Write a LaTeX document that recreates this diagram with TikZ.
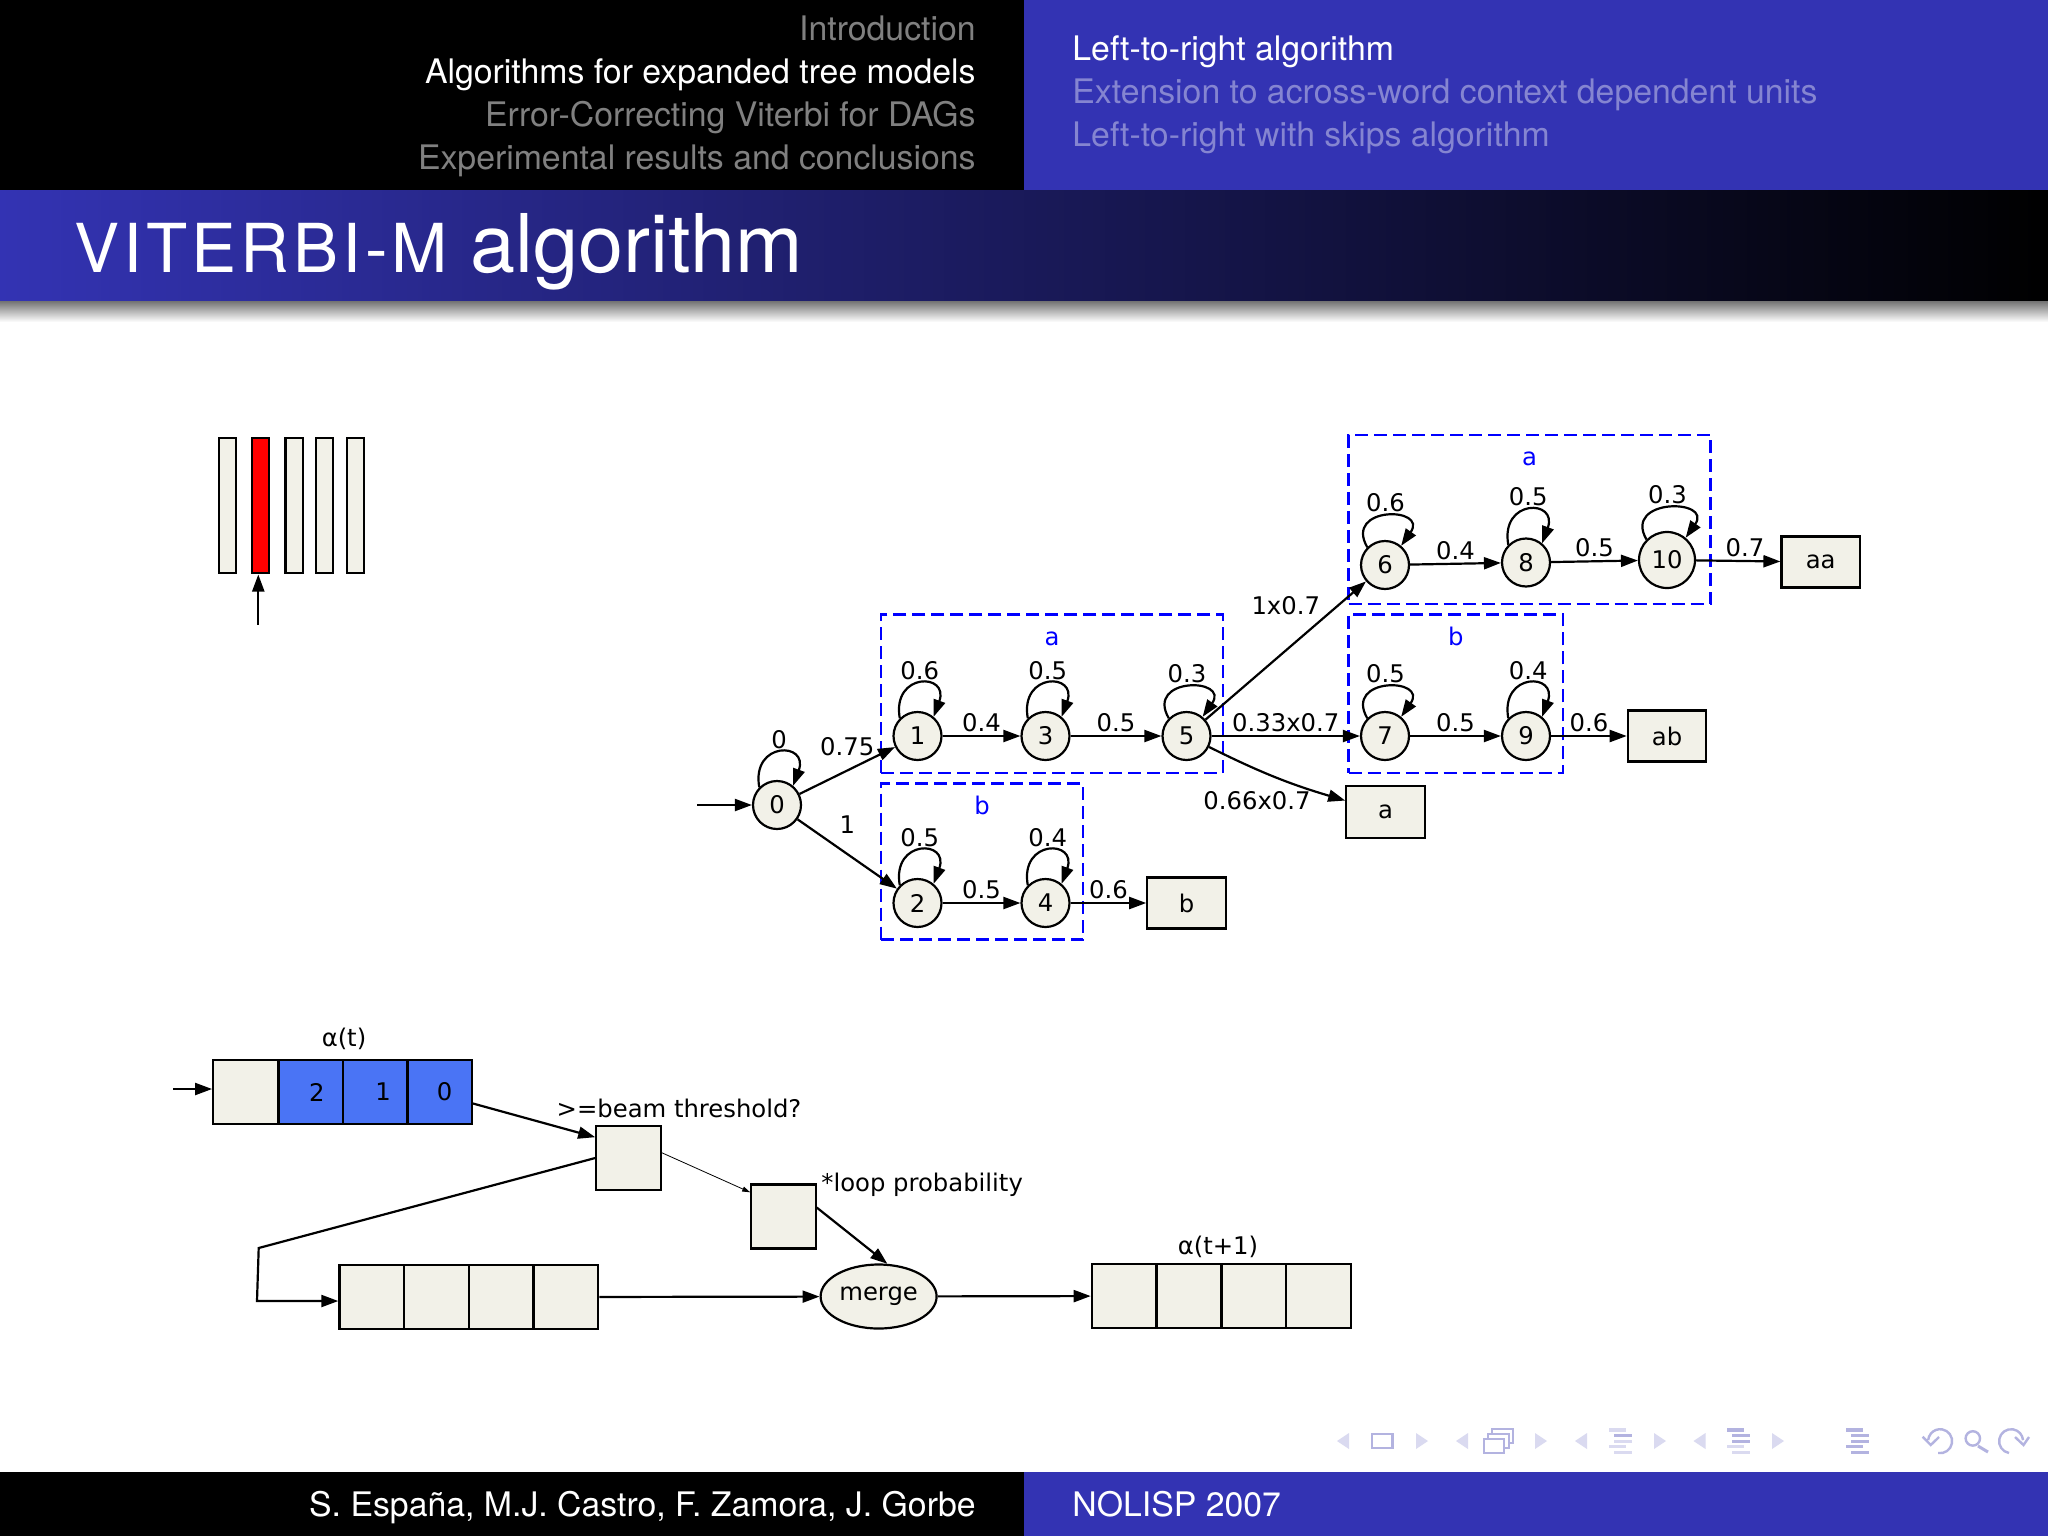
\documentclass[tikz,border=0pt]{standalone}
\usepackage{fontspec}
\setmainfont{TeX Gyre Heros}
\newfontfamily\graphfont{DejaVu Sans}
\usetikzlibrary{arrows.meta, fit, positioning, shapes.geometric}

\definecolor{hdblue}{HTML}{3333B3}
\definecolor{hdfade}{HTML}{8585D1}
\definecolor{paper}{HTML}{F2F1E8}
\definecolor{cellblue}{HTML}{4A74F5}
\definecolor{navsoft}{HTML}{DADAF0}
\definecolor{navhard}{HTML}{B3B3E0}

\tikzset{
  graphtext/.style={font=\graphfont\fontsize{12.15}{14}\selectfont},
  st/.style={graphtext, circle, draw, fill=paper, line width=1.1pt, minimum size=24pt, inner sep=0pt},
  finalbox/.style={graphtext, rectangle, draw, fill=paper, line width=1.1pt, minimum width=39.2pt, minimum height=25.5pt, inner sep=0pt},
  cell/.style={graphtext, rectangle, draw, fill=paper, line width=1.1pt, minimum width=32.2pt, minimum height=32pt, inner sep=0pt},
  bluecell/.style={cell, fill=cellblue},
  bar/.style={rectangle, draw, fill=paper, line width=1.1pt, minimum width=8.6pt, minimum height=67.5pt, inner sep=0pt},
  link/.style={-{Triangle[length=8.5pt,width=6pt]}, line width=1.1pt},
  weight/.style={graphtext, above, inner sep=1.5pt},
  cluster/.style={draw=blue, line width=1.2pt, dash pattern=on 6.5pt off 3pt, inner sep=0pt},
  clusterlabel/.style={graphtext, text=blue, text height=.76em, text depth=0pt, inner sep=0pt},
  narrowloop/.style={out=100, in=70, distance=23.5pt},
  wideloop/.style={out=120, in=55, distance=24pt},
  headtext/.style={font=\fontsize{16.9}{20}\selectfont, inner sep=0pt},
  navtri/.style={fill=navsoft},
  navline/.style={draw=navhard, line width=1.2pt}
}

% Navigation icons
\newcommand{\navleft}[1]{\fill[navtri] (#1+12,1433) -- (#1,1441) -- (#1+12,1449) -- cycle;}
\newcommand{\navright}[1]{\fill[navtri] (#1,1433) -- (#1+12,1441) -- (#1,1449) -- cycle;}
\newcommand{\navlist}[6]{
  \fill[#2] (#1,1428) rectangle (#1+16.5,1432);
  \fill[#3] (#1+5,1433.5) rectangle (#1+22.5,1437);
  \fill[#4] (#1+5,1439.5) rectangle (#1+22.5,1442.5);
  \fill[#5] (#1,1445) rectangle (#1+16.5,1448);
  \fill[#6] (#1+5,1451) rectangle (#1+22.5,1454);
}

\begin{document}
\begin{tikzpicture}[x=0.5pt, y=-0.5pt, on grid]
  \useasboundingbox (0,0) rectangle (2048,1536);
  \fill[white] (0,0) rectangle (2048,1536);

  % Slide frame
  \fill[black] (0,0) rectangle (1024,190);
  \fill[hdblue] (1024,0) rectangle (2048,190);
  \fill[left color=hdblue, right color=black] (0,190) rectangle (2048,301);
  \fill[top color=black!55, bottom color=white] (0,301) rectangle (2048,322);
  \fill[black] (0,1472) rectangle (1024,1536);
  \fill[hdblue] (1024,1472) rectangle (2048,1536);

  \node[headtext, anchor=base east, text=black!50!white] (sec1) at (976,40.5) {Introduction};
  \node[headtext, anchor=base east, text=white] (sec2) at (976,83.5) {Algorithms for expanded tree models};
  \node[headtext, anchor=base east, text=black!50!white] (sec3) at (976,126.5) {Error-Correcting Viterbi for DAGs};
  \node[headtext, anchor=base east, text=black!50!white] (sec4) at (976,169.5) {Experimental results and conclusions};
  \node[headtext, anchor=base west, text=white] (sub1) at (1072,61) {Left-to-right algorithm};
  \node[headtext, anchor=base west, text=hdfade] (sub2) at (1072,104) {Extension to across-word context dependent units};
  \node[headtext, anchor=base west, text=hdfade] (sub3) at (1072,147) {Left-to-right with skips algorithm};
  \node[anchor=base west, inner sep=0pt, text=white, font=\fontsize{40.5}{48}\selectfont] (title) at (74,272)
    {{\fontsize{33.75}{40}\selectfont\addfontfeature{LetterSpace=6}VITERBI-M} algorithm};
  \node[headtext, anchor=base east, text=white] (authors) at (976,1516) {S. España, M.J. Castro, F. Zamora, J. Gorbe};
  \node[headtext, anchor=base west, text=white] (venue) at (1072,1516) {NOLISP 2007};

  % Time frames
  \node[bar] (bar1) at (227.7,505.4) {};
  \node[bar, fill=red] (bar2) at (260.5,505.4) {};
  \node[bar] (bar3) at (294,505.4) {};
  \node[bar] (bar4) at (324.7,505.4) {};
  \node[bar] (bar5) at (355.5,505.4) {};
  \coordinate (barin) at (258.3,624.5);
  \draw[link] (barin) -- (258.3,574.5);

  % Clusters
  \node[cluster, fit={(881,614.6) (1223,773)}] (ca) {};
  \node[cluster, fit={(881,783.6) (1083,939.6)}] (cb) {};
  \node[cluster, fit={(1348.6,435) (1710.6,604)}] (caa) {};
  \node[cluster, fit={(1348.6,614.6) (1563,773)}] (cab) {};
  \node[clusterlabel, below=8.15pt of ca.north] (lca) {a};
  \node[clusterlabel, below=8.15pt of cb.north] (lcb) {b};
  \node[clusterlabel, below=8.15pt of caa.north] (lcaa) {a};
  \node[clusterlabel, below=8.15pt of cab.north] (lcab) {b};

  % Define nodes
  \node[st] (s0) at (777,805) {0};
  \node[st] (s1) at (917.5,736) {1};
  \node[st, right=64pt of s1] (s3) {3};
  \node[st, right=70.5pt of s3] (s5) {5};
  \node[st] (s2) at (917.5,903) {2};
  \node[st, right=64pt of s2] (s4) {4};
  \node[st] (s6) at (1385,565) {6};
  \node[st] (s8) at (1526,562.5) {8};
  \node[st, minimum size=28pt] (s10) at (1667,560) {10};
  \node[st] (s7) at (1385,736) {7};
  \node[st, right=70.5pt of s7] (s9) {9};
  \node[finalbox, right=70.5pt of s4] (fb) {b};
  \node[finalbox, minimum height=26pt] (fa) at (1385.5,812) {a};
  \node[finalbox] (faa) at (1820.7,562) {aa};
  \node[finalbox, right=70.5pt of s9] (fab) {ab};
  \coordinate (sin) at (697,805);

  % Connect the nodes
  \draw[link] (sin) -- (s0);
  \draw[link] (s0) -- node[weight, above=5.5pt] (w01) {0.75} (s1);
  \draw[link] (s0) -- node[weight, above=8pt] (w02) {1} (s2);
  \draw[link] (s1) -- node[weight] (w13) {0.4} (s3);
  \draw[link] (s3) -- node[weight] (w35) {0.5} (s5);
  \draw[link] (s2) -- node[weight] (w24) {0.5} (s4);
  \draw[link] (s4) -- node[weight] (w4b) {0.6} (fb);
  \draw[link] (s5) -- node[weight, above=16pt] (w56) {1x0.7} (s6);
  \draw[link] (s5) -- node[weight] (w57) {0.33x0.7} (s7);
  \draw[link] (s5) to[bend right=5] node[weight, pos=.35, below=9pt] (w5a) {0.66x0.7} (fa);
  \draw[link] (s6) -- node[weight] (w68) {0.4} (s8);
  \draw[link] (s8) -- node[weight] (w810) {0.5} (s10);
  \draw[link] (s10) -- node[weight, pos=.58] (w10a) {0.7} (faa);
  \draw[link] (s7) -- node[weight] (w79) {0.5} (s9);
  \draw[link] (s9) -- node[weight] (w9b) {0.6} (fab);

  % Self loops
  \draw[link] (s0.135) to[narrowloop] node[weight] (w00) {0} (s0.50);
  \draw[link] (s1.135) to[narrowloop] node[weight] (w11) {0.6} (s1.50);
  \draw[link] (s3.135) to[narrowloop] node[weight] (w33) {0.5} (s3.50);
  \draw[link] (s5.135) to[wideloop] node[weight] (w55) {0.3} (s5.50);
  \draw[link] (s2.135) to[narrowloop] node[weight] (w22) {0.5} (s2.50);
  \draw[link] (s4.135) to[narrowloop] node[weight] (w44) {0.4} (s4.50);
  \draw[link] (s6.135) to[wideloop] node[weight] (w66) {0.6} (s6.50);
  \draw[link] (s8.135) to[narrowloop] node[weight] (w88) {0.5} (s8.50);
  \draw[link] (s10.135) to[wideloop] node[weight] (w1010) {0.3} (s10.50);
  \draw[link] (s7.135) to[wideloop] node[weight] (w77) {0.5} (s7.50);
  \draw[link] (s9.135) to[narrowloop] node[weight] (w99) {0.4} (s9.50);

  % Beam queues
  \node[cell] (a0) at (245.4,1092) {};
  \node[bluecell, right=32.7pt of a0] (a1) {\hspace*{6pt}2};
  \node[bluecell, right=32.2pt of a1] (a2) {\hspace*{8pt}1};
  \node[bluecell, right=32.2pt of a2] (a3) {\hspace*{5pt}0};
  \node[cell] (bx1) at (628.5,1158) {};
  \node[cell] (bx2) at (783.5,1216.5) {};
  \node[cell] (r1) at (371.6,1297) {};
  \node[cell, right=32.4pt of r1] (r2) {};
  \node[cell, right=32.4pt of r2] (r3) {};
  \node[cell, right=32.4pt of r3] (r4) {};
  \node[graphtext, ellipse, draw, fill=paper, line width=1.1pt, minimum width=58pt, minimum height=32pt, inner sep=0pt] (mrg) at (878.6,1296.5) {merge};
  \node[cell] (o1) at (1124,1296) {};
  \node[cell, right=32.4pt of o1] (o2) {};
  \node[cell, right=32.4pt of o2] (o3) {};
  \node[cell, right=32.4pt of o3] (o4) {};
  \node[graphtext, anchor=base, inner sep=0pt] (at) at (344,1046) {α(t)};
  \node[graphtext, anchor=base, inner sep=0pt] (atn) at (1218,1254) {α(t+1)};
  \node[graphtext, anchor=base, inner sep=0pt] (beam) at (679,1117) {>=beam threshold?};
  \node[graphtext, anchor=base west, inner sep=0pt] (prob) at (821,1191) {*loop probability};
  \coordinate (qin) at (173,1089);
  \coordinate (bend1) at (258.7,1248);
  \coordinate (bend2) at (257,1301);

  \draw[link] (qin) -- (a0.west |- qin);
  \draw[link] (a3.-19) -- (bx1.148);
  \draw[link, line width=.4pt, -{Triangle[length=4pt,width=2.5pt]}] (bx1.9) -- (bx2.144);
  \draw[link] (bx2.15) -- (mrg.75);
  \draw[link] (bx1.west) -- (bend1) -- (bend2) -- (r1.west |- bend2);
  \draw[link] (r4) -- (mrg);
  \draw[link] (mrg) -- (o1);

  % Navigation symbols
  \navleft{1337}
  \draw[navline] (1372,1434) rectangle (1392.5,1448);
  \navright{1416}
  \navleft{1456}
  \draw[navline, fill=white] (1492,1429) rectangle (1513,1443);
  \draw[navline, fill=white] (1488,1434) rectangle (1509,1448);
  \draw[navline, fill=white] (1484,1439) rectangle (1504,1453);
  \navright{1535}
  \navleft{1575}
  \navlist{1609}{navsoft}{navhard}{navsoft}{navsoft}{navsoft}
  \navright{1654}
  \navleft{1693.5}
  \navlist{1727}{navhard}{navhard}{navhard}{navsoft}{navsoft}
  \navright{1772}
  \navlist{1846}{navhard}{navhard}{navhard}{navhard}{navhard}
  \draw[navline] (1938,1453) arc[start angle=-100, end angle=175, radius=6pt];
  \draw[navline] (1922.6,1436.7) -- (1930.7,1445) -- (1939,1437);
  \draw[navline] (1972.8,1438.4) circle[radius=3.6pt];
  \draw[navline, line width=1.5pt] (1978,1446) -- (1988,1452);
  \draw[navline] (2009,1453) arc[start angle=260, end angle=5, radius=6pt];
  \draw[navline] (2015,1437) -- (2023.5,1445) -- (2029,1437);

\end{tikzpicture}
\end{document}
